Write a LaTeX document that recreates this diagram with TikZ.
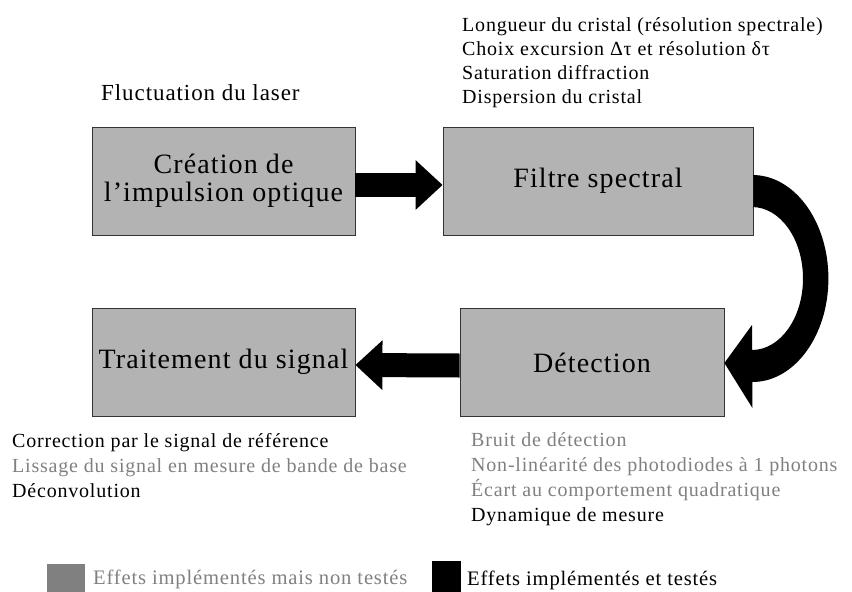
\documentclass[tikz,border=0pt]{standalone}
\usepackage{fontspec}
\setmainfont{Liberation Serif}[LetterSpace=4]
\usetikzlibrary{arrows.meta}
\definecolor{boxgray}{RGB}{179,179,179}
\definecolor{txtgray}{RGB}{128,128,128}
\definecolor{edgegray}{RGB}{51,51,51}
\begin{document}
\begin{tikzpicture}[x=1pt,y=1pt,
  blk/.style={draw=edgegray, line width=0.8pt, fill=boxgray, inner sep=0pt,
    font=\fontsize{28}{28}\selectfont, align=center, minimum height=108pt},
  note/.style={anchor=base west, inner sep=0pt, font=\fontsize{20}{24}\selectfont},
  notegray/.style={note, text=txtgray},
  legtext/.style={note, font=\fontsize{20.6}{24}\selectfont},
  fat/.style={line width=24pt, -{Triangle[length=27pt,width=48pt]}},
  legsq/.style={anchor=north west, inner sep=0pt, minimum height=32pt}
]
\useasboundingbox (0,0) rectangle (852,-592);

% boxes
\node[blk, minimum width=263pt] (b1) at (223.5,-181) {Création de\\l’impulsion optique};
\node[blk, minimum width=310pt] (b2) at (598,-181) {Filtre spectral};
\node[blk, minimum width=263pt] (b3) at (223.5,-362) {Traitement du signal};
\node[blk, minimum width=264pt] (b4) at (592,-362.5) {Détection};

% straight block arrows
\draw[fat] ([yshift=-4pt]b1.east) -- ([yshift=-4pt]b2.west);
\draw[fat] ([yshift=-3pt]b4.west) -- ([yshift=-3pt]b3.east);

% curved block arrow from b2 to b4
\fill[black] ([yshift=6pt]b2.east) -- ++(-1,0)
  arc[start angle=90, end angle=-90, x radius=76, y radius=103.5]
  -- ++(0,-26) -- ([yshift=-0.5pt]b4.east) -- (752,-325) -- (752,-350)
  arc[start angle=-90, end angle=90, x radius=51, y radius=71.5]
  -- ([yshift=-26pt]b2.east) -- cycle;

% annotations
\node[note, font=\fontsize{23}{27}\selectfont] (fl) at (101,-100) {Fluctuation du laser};

\node[note] (t1) at (462,-31) {Longueur du cristal (résolution spectrale)};
\node[note] (t2) at (462,-55) {Choix excursion Δτ et résolution δτ};
\node[note] (t3) at (462,-79) {Saturation diffraction};
\node[note] (t4) at (462,-103) {Dispersion du cristal};

\node[note] (l1) at (12,-447) {Correction par le signal de référence};
\node[notegray] (l2) at (12,-472) {Lissage du signal en mesure de bande de base};
\node[note] (l3) at (12,-497) {Déconvolution};

\node[notegray] (r1) at (471,-446) {Bruit de détection};
\node[notegray] (r2) at (471,-471) {Non-linéarité des photodiodes à 1 photons};
\node[notegray] (r3) at (471,-496) {Écart au comportement quadratique};
\node[note] (r4) at (471,-521) {Dynamique de mesure};

% legend
\node[legsq, fill=txtgray, minimum width=38pt] (lg1) at (47,-564) {};
\node[legtext, text=txtgray] (lt1) at (93,-584) {Effets implémentés mais non testés};
\node[legsq, fill=black, minimum width=29pt] (lg2) at (432,-561) {};
\node[legtext] (lt2) at (467,-585) {Effets implémentés et testés};
\end{tikzpicture}
\end{document}
